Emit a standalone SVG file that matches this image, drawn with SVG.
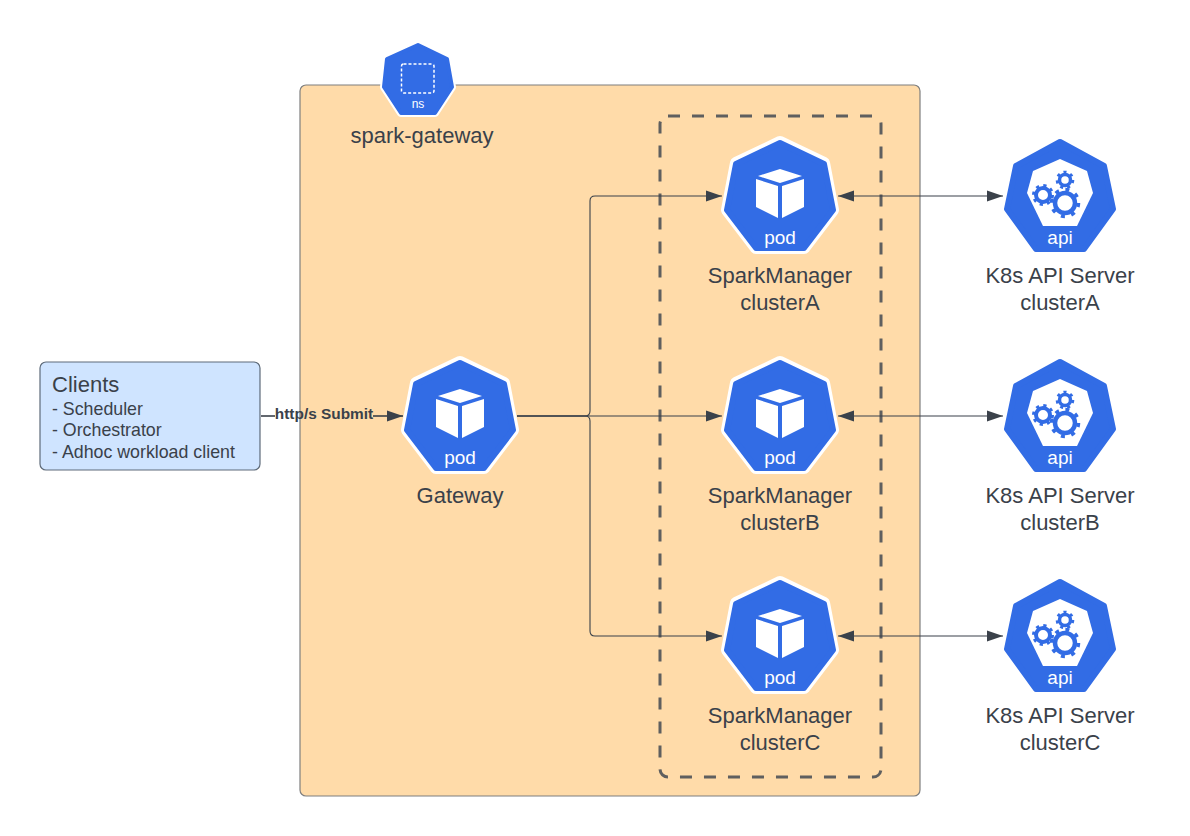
<svg xmlns="http://www.w3.org/2000/svg" width="1190" height="836" viewBox="0 0 1190 836">
<style>
text{font-family:"Liberation Sans",Arial,sans-serif;fill:#3a414a}
.lbl{font-size:22px;text-anchor:middle}
.ic{font-size:19px;fill:#fff;text-anchor:middle}
.nsic{font-size:12px;fill:#fff;text-anchor:middle}
.conn{fill:none;stroke:#3a414a;stroke-width:1.1}
.list{font-size:17.8px}
</style>
<defs>
<marker id="arrow" markerUnits="userSpaceOnUse" markerWidth="18" markerHeight="12" refX="17" refY="6" orient="auto-start-reverse"><path d="M1 0.500L17 6L1 11.500Z" fill="#3a414a"/></marker>
<g id="podShape">
<polygon points="0,-54 44,-33 53,14 24,52 -24,52 -53,14 -44,-33" fill="#fff" stroke="#fff" stroke-width="12" stroke-linejoin="round"/>
<polygon points="0,-53 44,-32 53,14 24,52 -24,52 -53,14 -44,-32" fill="#326ce5" stroke="#326ce5" stroke-width="6" stroke-linejoin="round"/>
<path d="M0-27L22-20L0-13L-22-20Z M-24-17L-2-10V22L-24 11Z M24-17L2-10V22L24 11Z" fill="#fff"/>
</g>
<g id="apiShape">
<polygon points="0,-55 44,-31 53,12 24,52 -24,52 -53,12 -44,-31" fill="#326ce5" stroke="#326ce5" stroke-width="6" stroke-linejoin="round"/>
<polygon points="0,-38 27,-26 33,-4 17,29 -17,29 -33,-4 -27,-26" fill="#fff"/>
<circle cx="-17" cy="-2" r="7" fill="#fff" stroke="#326ce5" stroke-width="4"/>
<circle cx="-17" cy="-2" r="9.500" fill="none" stroke="#326ce5" stroke-width="3" stroke-dasharray="3.200 4.260"/>
<circle cx="5" cy="-17" r="5.500" fill="#fff" stroke="#326ce5" stroke-width="3.500"/>
<circle cx="5" cy="-17" r="7.800" fill="none" stroke="#326ce5" stroke-width="3" stroke-dasharray="3 4"/>
<circle cx="5" cy="6" r="10" fill="#fff" stroke="#326ce5" stroke-width="4.500"/>
<circle cx="5" cy="6" r="13.500" fill="none" stroke="#326ce5" stroke-width="3.500" stroke-dasharray="4 6.600"/>
</g>
</defs>
<rect id="namespace-box" x="300" y="85" width="620" height="711" rx="6" fill="#ffdba9" stroke="#7f7f7f" stroke-width="1.200"/>
<rect id="managers-box" x="660" y="116" width="221" height="661" rx="8" fill="none" stroke="#5f5f5f" stroke-width="3" stroke-dasharray="12 12"/>
<g id="connectors">
<path class="conn" d="M517 416H585Q590 416 590 411V201Q590 196 595 196H722" marker-end="url(#arrow)"/>
<path class="conn" d="M517 416H722" marker-end="url(#arrow)"/>
<path class="conn" d="M517 416H585Q590 416 590 421V631Q590 636 595 636H722" marker-end="url(#arrow)"/>
<path class="conn" d="M838 196H1003" marker-start="url(#arrow)" marker-end="url(#arrow)"/>
<path class="conn" d="M838 416H1003" marker-start="url(#arrow)" marker-end="url(#arrow)"/>
<path class="conn" d="M838 636H1003" marker-start="url(#arrow)" marker-end="url(#arrow)"/>
<path class="conn" style="stroke-width:1.600" d="M261 416H275"/>
<path class="conn" style="stroke-width:1.600" d="M373 416H403" marker-end="url(#arrow)"/>
<text x="324" y="419" font-size="15.400" font-weight="bold" text-anchor="middle">http/s Submit</text>
</g>
<g id="ns">
<polygon points="418,45 387,59 384,87 401,113 435,113 452,87 447,59" fill="#326ce5" stroke="#fff" stroke-width="8" stroke-linejoin="round"/>
<polygon points="418,45 387,59 384,87 401,113 435,113 452,87 447,59" fill="#326ce5" stroke="#326ce5" stroke-width="4" stroke-linejoin="round"/>
<rect x="401.500" y="64" width="32.500" height="29" rx="2" fill="none" stroke="#fff" stroke-width="1.500" stroke-dasharray="3 2"/>
<text x="418" y="108" class="nsic">ns</text>
</g>
<text id="ns-label" x="422" y="143" class="lbl">spark-gateway</text>
<g id="clients">
<rect x="40" y="362" width="220" height="108" rx="6" fill="#cfe4ff" stroke="#5e6b7a" stroke-width="1.200"/>
<text x="52" y="392" font-size="22">Clients</text>
<text x="52" y="414.500" class="list">- Scheduler</text>
<text x="52" y="436" class="list">- Orchestrator</text>
<text x="52" y="457.500" class="list">- Adhoc workload client</text>
</g>
<g id="gateway"><use href="#podShape" x="460" y="416"/><text x="460" y="464" class="ic">pod</text><text x="460" y="503" class="lbl">Gateway</text></g>
<g id="manager-a"><use href="#podShape" x="780" y="196"/><text x="780" y="244" class="ic">pod</text><text x="780" y="283" class="lbl">SparkManager</text><text x="780" y="310" class="lbl">clusterA</text></g>
<g id="manager-b"><use href="#podShape" x="780" y="416"/><text x="780" y="464" class="ic">pod</text><text x="780" y="503" class="lbl">SparkManager</text><text x="780" y="530" class="lbl">clusterB</text></g>
<g id="manager-c"><use href="#podShape" x="780" y="636"/><text x="780" y="684" class="ic">pod</text><text x="780" y="723" class="lbl">SparkManager</text><text x="780" y="750" class="lbl">clusterC</text></g>
<g id="api-a"><use href="#apiShape" x="1060" y="197"/><text x="1060" y="244" class="ic">api</text><text x="1060" y="283" class="lbl">K8s API Server</text><text x="1060" y="310" class="lbl">clusterA</text></g>
<g id="api-b"><use href="#apiShape" x="1060" y="417"/><text x="1060" y="464" class="ic">api</text><text x="1060" y="503" class="lbl">K8s API Server</text><text x="1060" y="530" class="lbl">clusterB</text></g>
<g id="api-c"><use href="#apiShape" x="1060" y="637"/><text x="1060" y="684" class="ic">api</text><text x="1060" y="723" class="lbl">K8s API Server</text><text x="1060" y="750" class="lbl">clusterC</text></g>
</svg>
